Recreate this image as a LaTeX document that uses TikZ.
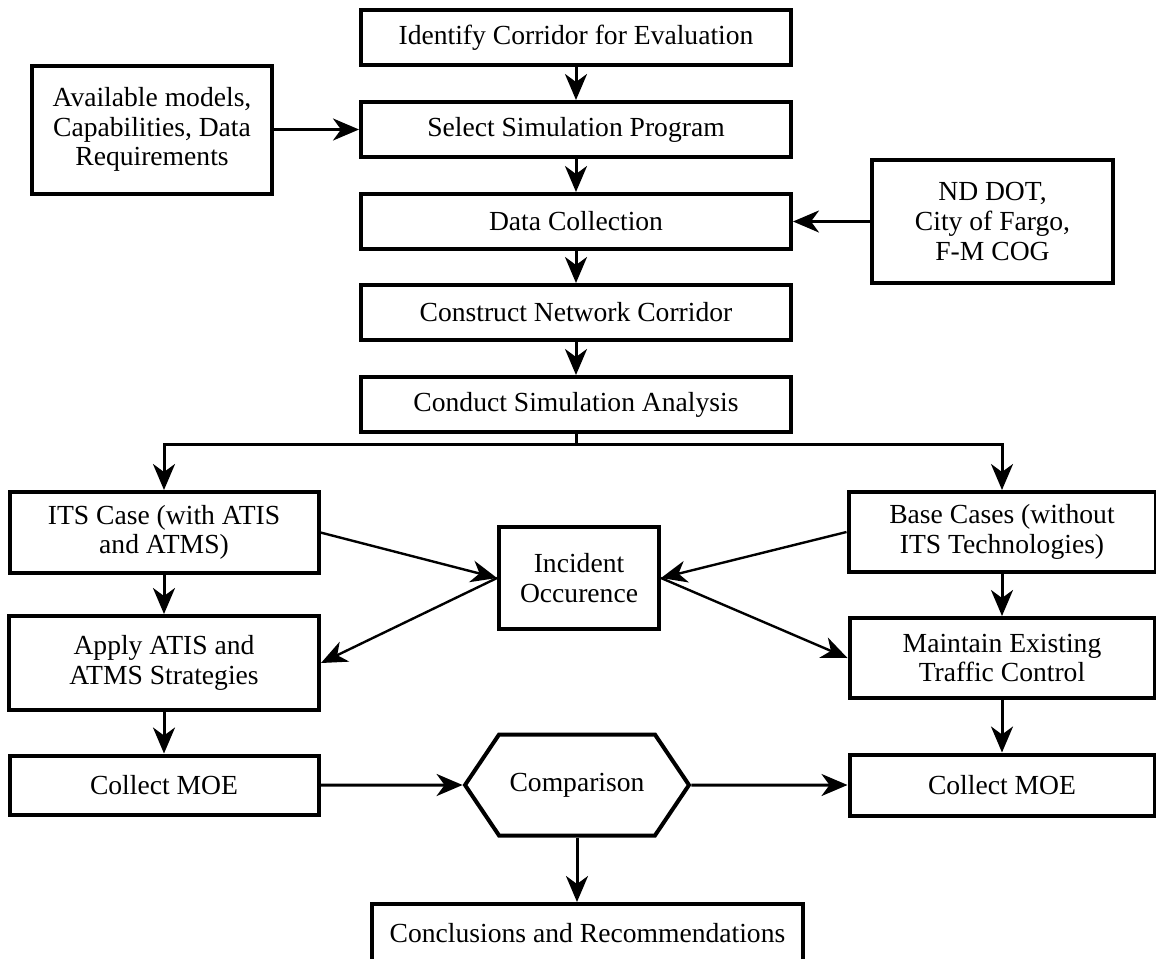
\documentclass[tikz,border=0pt]{standalone}
\usepackage{fontspec}
\setmainfont{Liberation Serif}
\usetikzlibrary{arrows.meta,shapes.symbols}
\newcommand\flowfont{\fontsize{13.8pt}{14.8pt}\selectfont}

\begin{document}
\begin{tikzpicture}[x=0.5pt, y=-0.5pt,
  box/.style={draw, line width=2pt, align=center, inner sep=1pt, font=\flowfont},
  arr/.style={line width=1.5pt, -{Stealth[length=13pt, width=11pt, inset=4pt]}},
  slant/.style={line width=1.2pt, -{Stealth[length=13pt, width=11pt, inset=4pt]}}]
  \clip (0,0) rectangle (1156,958);
  % main column
  \node[box, minimum width=215pt, minimum height=27.5pt] (identify) at (576,37.5) {Identify Corridor for Evaluation};
  \node[box, minimum width=215pt, minimum height=27.5pt] (select) at (576,129.5) {Select Simulation Program};
  \node[box, minimum width=215pt, minimum height=27.5pt] (data) at (576,221.5) {Data Collection};
  \node[box, minimum width=215pt, minimum height=27.5pt] (construct) at (576,312.5) {Construct Network Corridor};
  \node[box, minimum width=215pt, minimum height=27.5pt] (conduct) at (576,404.5) {Conduct Simulation Analysis};
  % inputs
  \node[box, minimum width=120pt, minimum height=64pt] (models) at (152,129.5) {Available models,\\Capabilities, Data\\Requirements};
  \node[box, minimum width=120.5pt, minimum height=61.5pt] (agency) at (992.5,221.5) {ND DOT,\\City of Fargo,\\F-M COG};
  % two cases
  \node[box, minimum width=154.5pt, minimum height=40.5pt] (its) at (164,532.5) {ITS Case (with ATIS\\and ATMS)};
  \node[box, minimum width=153.5pt, minimum height=40pt] (base) at (1002,532) {Base Cases (without\\ITS Technologies)};
  \node[box, minimum width=80pt, minimum height=51pt] (incident) at (579,578) {Incident\\Occurence};
  \node[box, minimum width=155pt, minimum height=47pt] (apply) at (164,663) {Apply ATIS and\\ATMS Strategies};
  \node[box, minimum width=152.5pt, minimum height=40pt] (maintain) at (1002,658) {Maintain Existing\\Traffic Control};
  \node[box, minimum width=154.5pt, minimum height=29.5pt] (moeits) at (164,785) {Collect MOE};
  \node[box, minimum width=152.5pt, minimum height=30.5pt] (moebase) at (1002,785) {Collect MOE};
  \node[box, signal, signal to=west and east, signal pointer angle=112,
        minimum width=112pt, minimum height=50.5pt] (compare) at (577,785) {Comparison};
  \node[box, minimum width=215.5pt, minimum height=29pt] (concl) at (587.5,933) {Conclusions and Recommendations};
  % connectors
  \draw[arr] (identify) -- (select);
  \draw[arr] (select) -- (data);
  \draw[arr] (data) -- (construct);
  \draw[arr] (construct) -- (conduct);
  \draw[arr] (models) -- (select);
  \draw[arr] (agency) -- (data);
  \coordinate (split) at (576,444);
  \draw[arr] (conduct.south) -- (split) -| (its.north);
  \draw[arr] (split) -| (base.north);
  \draw[arr] (its) -- (apply);
  \draw[arr] (apply) -- (moeits);
  \draw[arr] (base) -- (maintain);
  \draw[arr] (maintain) -- (moebase);
  \draw[slant] (its.east) -- (incident.west);
  \draw[slant] (incident.west) -- (apply.east);
  \draw[slant] (base.west) -- (incident.east);
  \draw[slant] (incident.east) -- (maintain.west);
  \draw[arr] (moeits) -- (compare);
  \draw[arr] (compare) -- (moebase);
  \draw[arr] (compare.south) -- (compare.south |- concl.north);
\end{tikzpicture}
\end{document}
